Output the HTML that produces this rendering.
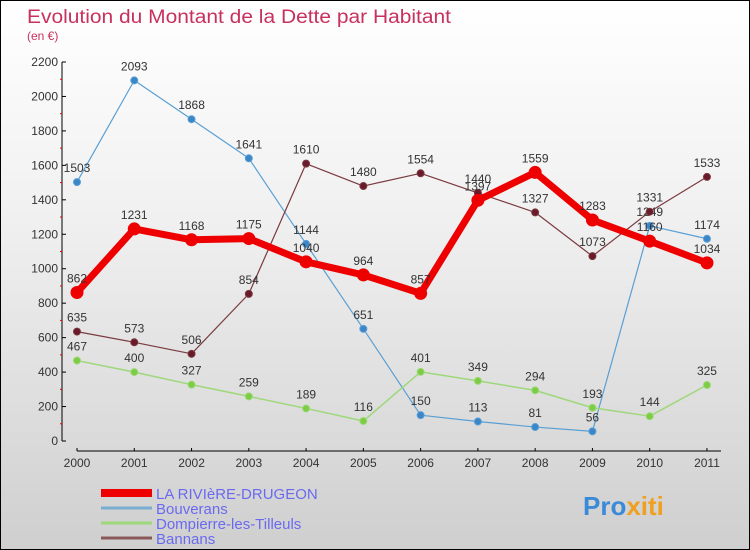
<!DOCTYPE html>
<html><head><meta charset="utf-8"><style>
body{margin:0}
#c{width:750px;height:550px;position:relative;box-sizing:border-box;border:1px solid #000;background:linear-gradient(#fff,#f0f0f0 40%,#cfcfcf);overflow:hidden;font-family:"Liberation Sans",sans-serif}
</style></head><body>
<div id="c">
<svg id="s" width="750" height="550" style="position:absolute;left:0;top:0">
<text x="26" y="22" font-size="19" fill="#c8305e" textLength="424" lengthAdjust="spacingAndGlyphs">Evolution du Montant de la Dette par Habitant</text>
<text x="26" y="39" font-size="12" fill="#c8305e">(en €)</text>
<text x="582" y="514" font-size="26" font-weight="bold"><tspan fill="#3a8ad8">Pro</tspan><tspan fill="#f0a020">xiti</tspan></text>
</svg>
</div>
<script>
const years=[2000,2001,2002,2003,2004,2005,2006,2007,2008,2009,2010,2011];
const riviere=[862,1231,1168,1175,1040,964,857,1397,1559,1283,1160,1034];
const bouverans=[1503,2093,1868,1641,1144,651,150,113,81,56,1249,1174];
const dompierre=[467,400,327,259,189,116,401,349,294,193,144,325];
const bannans=[635,573,506,854,1610,1480,1554,1440,1327,1073,1331,1533];
const yTicks=[0,200,400,600,800,1000,1200,1400,1600,1800,2000,2200];
const seriesNames=["LA RIVIèRE-DRUGEON","Bouverans","Dompierre-les-Tilleuls","Bannans"];
const ns="http://www.w3.org/2000/svg",s=document.getElementById('s');
const X=i=>76+i*57.27, Y=v=>440-v*379/2200;
function el(t,a,txt){const e=document.createElementNS(ns,t);for(const k in a)e.setAttribute(k,a[k]);if(txt!=null)e.textContent=txt;s.appendChild(e);return e;}
let e=el('line',{x1:61,y1:Y(2200),x2:61,y2:440,stroke:'#000'});

e=el('line',{x1:76,y1:450,x2:720,y2:450,stroke:'#000'});

yTicks.forEach((v,i)=>{
 let t=el('line',{x1:61,y1:Y(v),x2:65,y2:Y(v),stroke:'#000'});
 
 if(i<yTicks.length-1){let m=el('line',{x1:59,y1:Y(v+100),x2:61,y2:Y(v+100),stroke:'#e00'});}
 let l=el('text',{x:57,y:Y(v)+4,'font-size':12,fill:'#333','text-anchor':'end'},v);
 
});
years.forEach((y,i)=>{
 let t=el('line',{x1:X(i),y1:447,x2:X(i),y2:450,stroke:'#000'});
 
 let l=el('text',{x:X(i),y:466,'font-size':12,fill:'#333','text-anchor':'middle'},y);
 
});
function series(d,col,w,r,dot,name){
 let p=el('polyline',{points:d.map((v,i)=>X(i)+','+Y(v)).join(' '),fill:'none',stroke:col,'stroke-width':w,'stroke-linejoin':'round'});
 
 d.forEach((v,i)=>{
  let c=el('circle',{cx:X(i),cy:Y(v),r:r,fill:dot,stroke:col,'stroke-width':1});
  
  let l=el('text',{x:X(i),y:Y(v)-10,'font-size':12,fill:'#333','text-anchor':'middle'},v);
  
 });
}
series(bouverans,'#5a9fd4',1.2,3.5,'#3a86c8','bouverans');
series(dompierre,'#9ed87a',1.5,3.5,'#7ccc44','dompierre');
series(bannans,'#7a3a40',1.2,3.5,'#6a1a2a','bannans');
series(riviere,'#ee0000',7,6,'#ee0000','riviere');
const lc=['#ee0000','#7aaed0','#9ed87a','#8a5a5a'],lw=[8,3,3,3];
seriesNames.forEach((n,i)=>{
 let y=492+i*15;
 let l=el('line',{x1:100,y1:y,x2:151,y2:y,stroke:lc[i],'stroke-width':lw[i]});
 
 let t=el('text',{x:155,y:y+6,'font-size':15,fill:'#6a6af0'},n);
 
});
</script>
</body></html>
